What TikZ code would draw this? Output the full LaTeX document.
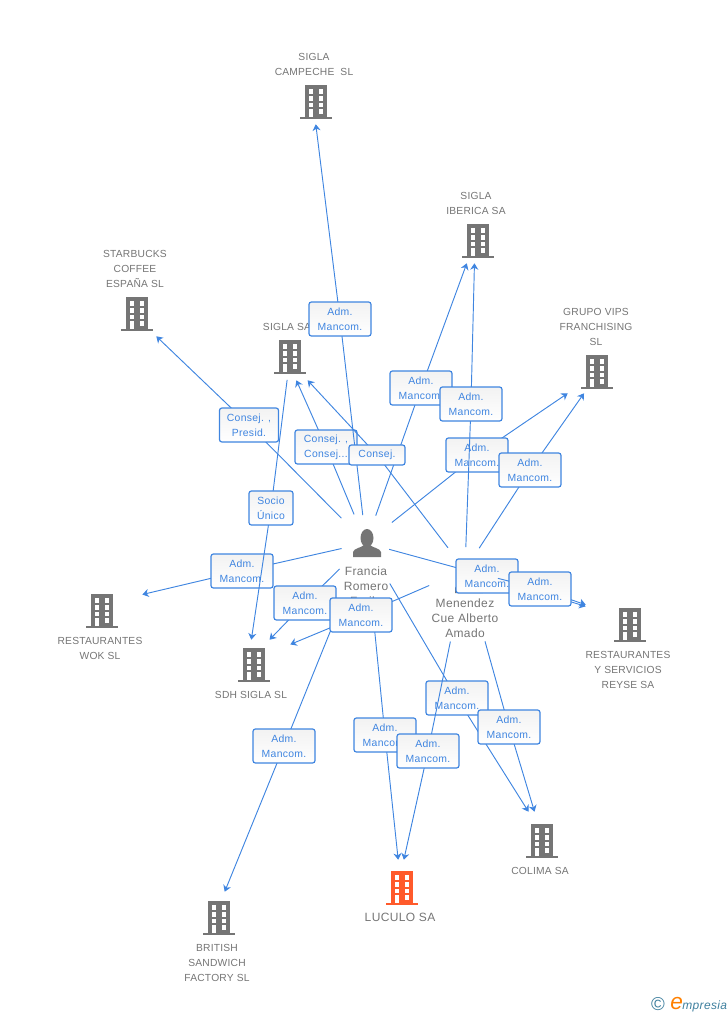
\documentclass[tikz,border=0pt]{standalone}
\usepackage{fontspec}
\setmainfont[LetterSpace=3]{Liberation Sans}
\newfontfamily\capfont[LetterSpace=2]{Liberation Sans}
\usetikzlibrary{arrows.meta}
\definecolor{linkblue}{HTML}{3F85E0}
\definecolor{iconbody}{HTML}{757575}
\definecolor{mainbody}{HTML}{FF5A2B}
\definecolor{logoblue}{HTML}{3E7F9E}
\tikzset{
  building/.pic={
    \fill[pic actions] (-11,-17) rectangle (11,15);
    \fill[pic actions] (-16,15) rectangle (16,17);
    \foreach \i in {-7.3,2.7} \foreach \j in {-12.7,-6,0.7} \fill[white] (\i,\j) rectangle (\i+4.6,\j+4.6);
    \fill[white] (2.7,7) rectangle (7.3,11.7);
    \fill[white] (-7.3,7) rectangle (-2.7,15);
  },
  personicon/.pic={
    \fill[iconbody] (0,-6) ellipse (6.5 and 9);
    \fill[iconbody] (-14,13) -- (-14,8) .. controls (-13,4) and (-6,4) .. (-3,1) -- (3,1) .. controls (6,4) and (13,4) .. (14,8) -- (14,13) -- cycle;
  },
  entity/.style={rectangle, inner sep=0pt, minimum width=80*0.75pt, minimum height=#1*0.75pt},
  entity/.default=44,
  rel/.style={draw=linkblue, line width=0.7pt},
  reltip/.style={-{Stealth[length=4.8pt,width=6pt,inset=1.5pt]}},
  tag/.style={draw=linkblue, line width=0.9pt, rounded corners=1.8pt, top color=black!5, bottom color=white,
    text=linkblue, font=\fontsize{7.8}{11.2}\selectfont, align=center, inner sep=0pt, minimum height=#1*0.75pt},
  tag/.default=34,
  caption/.style={text=iconbody, font=\capfont\fontsize{7.7}{11.25}\selectfont, align=center, inner sep=0pt},
  bigcaption/.style={text=iconbody, font=\fontsize{9}{11.25}\selectfont, align=center, inner sep=0pt}
}
\begin{document}
\begin{tikzpicture}[x=0.75pt, y=-0.75pt]
\useasboundingbox (0,0) rectangle (728,1015);

\pic[iconbody] at (316,102) {building};
\pic[iconbody] at (478,241) {building};
\pic[iconbody] at (137,314) {building};
\pic[iconbody] at (290,357) {building};
\pic[iconbody] at (597,372) {building};
\pic[iconbody] at (102,611) {building};
\pic[iconbody] at (254,665) {building};
\pic[iconbody] at (630,625) {building};
\pic[iconbody] at (542,841) {building};
\pic[mainbody] at (402,888) {building};
\pic[iconbody] at (219,918) {building};
\pic at (367,544) {personicon};
\pic at (469,580) {personicon};

\node[entity] (campeche) at (313,102) {};
\node[entity] (iberica) at (475,241) {};
\node[entity] (starbucks) at (133,314) {};
\node[entity=46] (siglasa) at (286,357) {};
\node[entity=42] (vips) at (599,372) {};
\node[entity] (wok) at (102,604) {};
\node[entity, minimum width=84*0.75pt] (sdh) at (248,662) {};
\node[entity, minimum width=88*0.75pt] (reyse) at (630,620) {};
\node[entity=36] (colima) at (540,830) {};
\node[entity=34] (luculo) at (400,877) {};
\node[entity=52] (british) at (214,918) {};
\coordinate (francia) at (366,543);
\coordinate (menendez) at (465,570);
\coordinate (siglasrc) at (290,357);

\node[caption] (campechetxt) at (314,64.5) {SIGLA\\CAMPECHE\ \ SL};
\node[caption] (ibericatxt) at (476,203.5) {SIGLA\\IBERICA SA};
\node[caption] (starbuckstxt) at (135,269) {STARBUCKS\\COFFEE\\ESPAÑA SL};
\node[caption] (siglasatxt) at (287,327) {SIGLA SA};
\node[caption] (vipstxt) at (596,327) {GRUPO VIPS\\FRANCHISING\\SL};
\node[caption] (woktxt) at (100,648.5) {RESTAURANTES\\WOK SL};
\node[caption] (sdhtxt) at (251,695) {SDH SIGLA SL};
\node[caption] (reysetxt) at (628,670) {RESTAURANTES\\Y SERVICIOS\\REYSE SA};
\node[caption] (colimatxt) at (540,871) {COLIMA SA};
\node[bigcaption] (luculotxt) at (400,917) {LUCULO SA};
\node[caption] (britishtxt) at (217,963) {BRITISH\\SANDWICH\\FACTORY SL};
\node[bigcaption] (franciatxt) at (366,586) {Francia\\Romero\\Fraile};
\node[bigcaption] (menendeztxt) at (465,618) {Menendez\\Cue Alberto\\Amado};

\foreach \src/\gap/\x/\y/\w/\h/\txt/\tgt [count=\n] in {
  francia/25/242/571/62/34/{Adm.\\Mancom.}/wok,
  francia/35/249/425/59/34/{Consej. ,\\Presid.}/starbucks,
  francia/31/326/447/62/34/{Consej. ,\\Consej...}/siglasa,
  francia/28/340/319/62/34/{Adm.\\Mancom.}/campeche,
  francia/29/421/388/62/34/{Adm.\\Mancom.}/iberica,
  francia/33/477/455/62/34/{Adm.\\Mancom.}/vips,
  francia/37/305/603/62/34/{Adm.\\Mancom.}/sdh,
  francia/60/385/735/62/34/{Adm.\\Mancom.}/luculo,
  francia/24/487/576/62/34/{Adm.\\Mancom.}/reyse,
  francia/47/457/698/62/34/{Adm.\\Mancom.}/colima,
  francia/75/284/746/62/34/{Adm.\\Mancom.}/british,
  siglasrc/23/271/508/44/34/{Socio\\Único}/sdh,
  menendez/28/377/455/56/20/{Consej.}/siglasa,
  menendez/23/471/404/62/34/{Adm.\\Mancom.}/iberica,
  menendez/26/530/470/62/34/{Adm.\\Mancom.}/vips,
  menendez/34/540/589/62/34/{Adm.\\Mancom.}/reyse,
  menendez/39/361/615/62/34/{Adm.\\Mancom.}/sdh,
  menendez/73/428/751/62/34/{Adm.\\Mancom.}/luculo,
  menendez/74/509/727/62/34/{Adm.\\Mancom.}/colima%
}{
  \coordinate (via\n) at (\x,\y);
  \draw[rel, shorten <=\gap*0.75pt] (\src) -- (via\n);
  \draw[rel, reltip] (via\n) -- (\tgt);
  \node[tag=\h, minimum width=\w*0.75pt] (tag\n) at (via\n) {\txt};
}

\node[inner sep=0pt, text=logoblue, font=\fontsize{14}{14}\selectfont] (copysign) at (658,1004) {©};
\node[inner sep=0pt, anchor=base west, text=orange, font=\fontsize{17}{17}\selectfont\itshape] (logoe) at (670,1009) {e};
\node[inner sep=0pt, anchor=base west, text=logoblue, font=\fontsize{9}{9}\selectfont\itshape] (logotxt) at (682,1009) {mpresia};
\end{tikzpicture}
\end{document}
